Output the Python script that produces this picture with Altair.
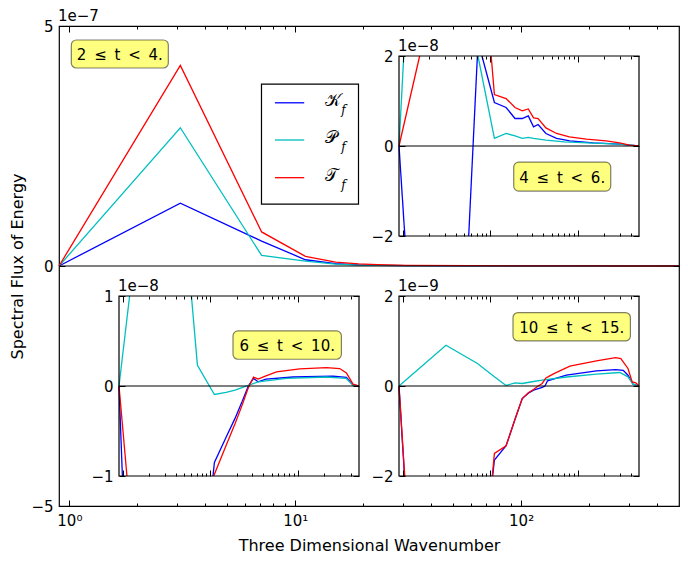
import altair as alt
import pandas as pd

FONT = "DejaVu Sans"
K_DOMAIN = [0.9, 500]
SERIES = ["K", "P", "T"]
SERIES_COLORS = ["#0000ff", "#00bfbf", "#ff0000"]
LEGEND_GLYPHS = ["\U0001D4A6", "\U0001D4AB", "\U0001D4AF"]
MAJOR_K = [1, 10, 100]
MINOR_K = [2, 3, 4, 5, 6, 7, 8, 9, 20, 30, 40, 50, 60, 70, 80, 90, 200, 300, 400]

# Panel A (2 <= t < 4), units of 1e-7
a_k = [0.9, 3.1, 7.1, 11.1, 15.1, 19.1, 23.1, 31.1, 60, 150, 500]
a_K = [0, 1.31, 0.52, 0.13, 0.05, 0.025, 0.015, 0.008, 0.003, 0.001, 0]
a_P = [0, 2.88, 0.22, 0.10, 0.04, 0.02, 0.012, 0.006, 0.003, 0.001, 0]
a_T = [0, 4.18, 0.71, 0.20, 0.08, 0.045, 0.03, 0.015, 0.006, 0.002, 0]

# Insets: the parts of each curve seen inside the inset window.
# None marks where a curve leaves the window and comes back.
# Panel B (4 <= t < 6), units of 1e-8, window -2..2
b_K_k = [0.9, 1.05, None, 5.64, 7.09, None, 8.0, 11.1, 15.1, 19.1, 23.1, 27.1, 31.1, 35.1, 43.1, 57, 81, 150, 300, 420, 500]
b_K_v = [0, -2, None, -2, 2, None, 2, 0.966, 0.855, 0.611, 0.611, 0.669, 0.425, 0.478, 0.278, 0.168, 0.114, 0.07, 0.041, 0.012, 0]
b_P_k = [0.9, 1.02, None, 7.2, 11.1, 15.1, 19.1, 23.1, 27.1, 31.1, 43.1, 70, 150, 300, 500]
b_P_v = [0, 2, None, 2, 0.168, 0.278, 0.225, 0.168, 0.19, 0.168, 0.13, 0.092, 0.063, 0.041, 0]
b_T_k = [0.9, 1.55, None, 10.2, 11.1, 15.1, 19.1, 23.1, 27.1, 31.1, 35.1, 43.1, 57, 80, 125, 210, 300, 390, 500]
b_T_v = [0, 2, None, 2, 1.144, 1.055, 0.855, 0.78, 0.824, 0.625, 0.611, 0.403, 0.278, 0.203, 0.152, 0.114, 0.07, 0.019, 0]

# Panel C (6 <= t < 10), units of 1e-8, window -1..1
c_K_k = [0.9, 0.984, None, 10.7, 11.1, 15.1, 19.1, 23.1, 27.1, 31.1, 35.1, 43.1, 88, 252, 359, 427, 500]
c_K_v = [0, -1, None, -1, -0.85, -0.57, -0.36, -0.17, 0.0, 0.084, 0.046, 0.076, 0.10, 0.109, 0.095, 0.013, 0]
c_P_k = [0.9, 1.19, None, 6.06, 7.1, 11.1, 15.1, 19.1, 27.1, 35.1, 74, 212, 359, 427, 500]
c_P_v = [0, 1, None, 1, 0.231, -0.094, -0.07, -0.046, 0.006, 0.046, 0.084, 0.10, 0.084, 0.006, 0]
c_T_k = [0.9, 1.11, None, 10.9, 11.1, 15.1, 19.1, 23.1, 27.1, 31.1, 35.1, 43.1, 57, 105, 212, 301, 359, 427, 500]
c_T_v = [0, -1, None, -1, -0.98, -0.66, -0.42, -0.21, -0.02, 0.10, 0.076, 0.113, 0.157, 0.19, 0.205, 0.194, 0.146, 0.02, 0]

# Panel D (10 <= t < 15), units of 1e-9, window -2..2
d_K_k = [0.9, 1.04, None, 10.6, 11.1, 15.1, 19.1, 23.1, 27.1, 31.1, 39.1, 42, 45, 74, 163, 270, 330, 374, 427, 500]
d_K_v = [0, -2, None, -2, -1.645, -1.328, -0.74, -0.28, -0.16, -0.092, -0.03, 0.0, 0.115, 0.24, 0.336, 0.366, 0.35, 0.24, 0.04, 0]
d_P_k = [0.9, 3.1, 7.1, 11.1, 15.1, 19.1, 23.1, 31.1, 39.1, 74, 163, 301, 374, 427, 500]
d_P_v = [0, 0.906, 0.50, 0.207, 0.012, 0.07, 0.056, 0.10, 0.13, 0.20, 0.263, 0.30, 0.203, 0.04, 0]
d_T_k = [0.9, 1.046, None, 10.5, 11.1, 15.1, 19.1, 23.1, 27.1, 31.1, 35.1, 39.1, 43.1, 47.1, 54, 81, 163, 270, 310, 374, 418, 460, 500]
d_T_v = [0, -2, None, -2, -1.497, -1.328, -0.74, -0.28, -0.15, -0.077, 0.0, 0.056, 0.18, 0.22, 0.28, 0.44, 0.56, 0.63, 0.61, 0.39, 0.09, 0.07, 0]

# Annotation texts
TS = "\u2009"
LABEL_A = f"2 {TS}\u2264{TS} t {TS}<{TS} 4."
LABEL_B = f"4 {TS}\u2264{TS} t {TS}<{TS} 6."
LABEL_C = f"6 {TS}\u2264{TS} t {TS}<{TS} 10."
LABEL_D = f"10 {TS}\u2264{TS} t {TS}<{TS} 15."

# Layout (pixels, relative to the main plot area)
PLOT_W, PLOT_H = 620, 480

Y_EXPR = "datum.value < 0 ? '\u2212' + (-datum.value) : '' + datum.value"
X_EXPR = ("datum.value == 1 ? '10\u2070' : datum.value == 10 ? '10\u00b9' : "
          "datum.value == 100 ? '10\u00b2' : ''")


def series_frame(pairs):
    rows = []
    for name, ks, vs in pairs:
        seg = 0
        for k, v in zip(ks, vs):
            if k is None or v is None:
                seg += 1
                continue
            rows.append({"s": name, "seg": f"{name}{seg}", "k": k, "v": v})
    return pd.DataFrame(rows)


def make_axis(orient, values, size, offset, labels=False, label_expr=None,
              title=None, label_pad=0, title_pad=0):
    kw = dict(orient=orient, values=values, tickSize={"expr": str(-size)},
              tickColor="black", tickWidth=1, domain=False, grid=False,
              labels=labels, offset=offset, title=title, zindex=1)
    if labels:
        kw.update(labelExpr=label_expr, labelPadding=label_pad, labelFont=FONT,
                  labelFontSize=15, labelColor="black", labelFlush=False)
    if title is not None:
        kw.update(titlePadding=title_pad, titleFont=FONT, titleFontSize=16,
                  titleFontWeight="normal", titleColor="black")
    return alt.Axis(**kw)


def build_panel(df, ylim, unit, label, box, xrange_=None, yrange_=None,
                main=False, legend=None):
    xkw = dict(type="log", domain=K_DOMAIN, nice=False)
    ykw = dict(domain=ylim, nice=False, zero=False)
    if xrange_:
        xkw["range"] = xrange_
    if yrange_:
        ykw["range"] = yrange_
    xs = alt.Scale(**xkw)
    ys = alt.Scale(**ykw)
    if main:
        off = dict(bottom=0, top=0, left=0, right=0)
    else:
        off = dict(bottom=yrange_[0] - PLOT_H, top=-yrange_[1],
                   left=-xrange_[0], right=xrange_[1] - PLOT_W)
    dom = pd.DataFrame({"x0": [K_DOMAIN[0]], "x1": [K_DOMAIN[1]],
                        "y0": [ylim[0]], "y1": [ylim[1]], "zero": [0.0],
                        "unit": [unit]})
    yvals = [ylim[0], 0, ylim[1]]

    def X(f, axis=None):
        return alt.X(f, type="quantitative", scale=xs, axis=axis)

    def Y(f, axis=None):
        return alt.Y(f, type="quantitative", scale=ys, axis=axis)

    layers = []
    if not main:
        layers.append(alt.Chart(dom).mark_rect(fill="white").encode(
            x=X("x0"), x2="x1", y=Y("y0"), y2="y1"))
    layers.append(alt.Chart(df).mark_line(strokeWidth=1.3).encode(
        x=X("k"), y=Y("v"), detail="seg:N",
        color=alt.Color("s:N", scale=alt.Scale(domain=SERIES, range=SERIES_COLORS), legend=None)))
    layers.append(alt.Chart(dom).mark_rule(color="black", strokeWidth=1.2).encode(
        x=X("x0"), x2="x1", y=Y("zero")))
    if not main:
        layers.append(alt.Chart(dom).mark_rect(fillOpacity=0, stroke="black", strokeWidth=1.2).encode(
            x=X("x0"), x2="x1", y=Y("y0"), y2="y1"))
    # annotation box
    kc, vc, hw, hh = box
    bdf = pd.DataFrame({"k": [kc], "v": [vc], "t": [label]})
    layers.append(alt.Chart(bdf).mark_rect(
        fill="#ffff00", fillOpacity=0.5, stroke="black", strokeOpacity=0.5, strokeWidth=1.2,
        cornerRadius=5, xOffset=-hw, x2Offset=hw, yOffset=-hh, y2Offset=hh).encode(
        x=X("k"), x2="k", y=Y("v"), y2="v"))
    layers.append(alt.Chart(bdf).mark_text(font=FONT, fontSize=15, color="black",
                                           align="center", baseline="middle", dy=1).encode(
        x=X("k"), y=Y("v"), text="t:N"))
    # offset (scale) text
    layers.append(alt.Chart(dom).mark_text(font=FONT, fontSize=15, color="black",
                                           align="left", baseline="bottom", dy=-2, dx=-1).encode(
        x=X("x0"), y=Y("y1"), text="unit:N"))
    if legend is not None:
        layers.extend(legend(X, Y))
    # axis carriers
    bottom_major = make_axis("bottom", MAJOR_K, 6, off["bottom"], labels=main,
                             label_expr=X_EXPR, label_pad=13,
                             title="Three Dimensional Wavenumber" if main else None,
                             title_pad=9)
    left = make_axis("left", yvals, 6, off["left"], labels=True, label_expr=Y_EXPR,
                     label_pad=12, title="Spectral Flux of Energy" if main else None,
                     title_pad=5)
    layers.append(alt.Chart(dom).mark_point(opacity=0).encode(
        x=X("x0", bottom_major), y=Y("y0", left)))
    layers.append(alt.Chart(dom).mark_point(opacity=0).encode(
        x=X("x0", make_axis("bottom", MINOR_K, 3, off["bottom"])),
        y=Y("y0", make_axis("right", yvals, 6, off["right"]))))
    layers.append(alt.Chart(dom).mark_point(opacity=0).encode(
        x=X("x0", make_axis("top", MAJOR_K, 6, off["top"])), y=Y("y0")))
    layers.append(alt.Chart(dom).mark_point(opacity=0).encode(
        x=X("x0", make_axis("top", MINOR_K, 3, off["top"])), y=Y("y0")))
    return alt.layer(*layers).resolve_axis(x="independent", y="independent")


# Legend of the main panel (placed in main-panel data coordinates)
LEG_BOX = {"k0": [7.09], "k1": [19.06], "v0": [1.29], "v1": [3.79]}
LEG_LINE_K = [8.13, 10.96]
LEG_ROW_V = [3.40, 2.625, 1.84]
LEG_TEXT_K = 13.5
LEG_SUB_K = 16.0


def main_legend(X, Y):
    box = pd.DataFrame(LEG_BOX)
    rows = pd.DataFrame({"s": SERIES, "g": LEGEND_GLYPHS, "v": LEG_ROW_V,
                         "ka": [LEG_LINE_K[0]] * 3, "kb": [LEG_LINE_K[1]] * 3,
                         "kt": [LEG_TEXT_K] * 3, "ks": [LEG_SUB_K] * 3, "f": ["f"] * 3})
    return [
        alt.Chart(box).mark_rect(fill="white", stroke="black", strokeWidth=1.2).encode(
            x=X("k0"), x2="k1", y=Y("v0"), y2="v1"),
        alt.Chart(rows).mark_rule(strokeWidth=1.3).encode(
            x=X("ka"), x2="kb", y=Y("v"),
            color=alt.Color("s:N", scale=alt.Scale(domain=SERIES, range=SERIES_COLORS), legend=None)),
        alt.Chart(rows).mark_text(font="DejaVu Serif", fontSize=17, fontWeight="normal",
                                  color="black", align="left", baseline="middle", dy=-2).encode(
            x=X("kt"), y=Y("v"), text="g:N"),
        alt.Chart(rows).mark_text(font="DejaVu Serif", fontSize=12, fontStyle="italic",
                                  color="black", align="left", baseline="middle", dy=7).encode(
            x=X("ks"), y=Y("v"), text="f:N"),
    ]


df_a = series_frame([("K", a_k, a_K), ("P", a_k, a_P), ("T", a_k, a_T)])
df_b = series_frame([("K", b_K_k, b_K_v), ("P", b_P_k, b_P_v), ("T", b_T_k, b_T_v)])
df_c = series_frame([("K", c_K_k, c_K_v), ("P", c_P_k, c_P_v), ("T", c_T_k, c_T_v)])
df_d = series_frame([("K", d_K_k, d_K_v), ("P", d_P_k, d_P_v), ("T", d_T_k, d_T_v)])

panel_a = build_panel(df_a, [-5, 5], "1e\u22127", LABEL_A, (1.673, 4.417, 48.5, 14),
                      main=True, legend=main_legend)
panel_b = build_panel(df_b, [-2, 2], "1e\u22128", LABEL_B, (66.2, -0.68, 48.5, 14.5),
                      xrange_=[340, 580], yrange_=[210, 30])
panel_c = build_panel(df_c, [-1, 1], "1e\u22128", LABEL_C, (75.5, 0.455, 54.2, 14.2),
                      xrange_=[60, 300], yrange_=[450, 270])
panel_d = build_panel(df_d, [-2, 2], "1e\u22129", LABEL_D, (85.0, 1.317, 58.7, 14.2),
                      xrange_=[340, 580], yrange_=[450, 270])

chart = alt.layer(panel_a, panel_b, panel_c, panel_d).resolve_scale(
    x="independent", y="independent"
).properties(
    width=PLOT_W, height=PLOT_H,
    padding={"left": 51, "top": 18, "right": 1, "bottom": 49},
    autosize=alt.AutoSizeParams(type="none"),
).configure_view(stroke="black", strokeWidth=1.2)

chart.save("out.html", embed_options={"renderer": "svg", "actions": False})
